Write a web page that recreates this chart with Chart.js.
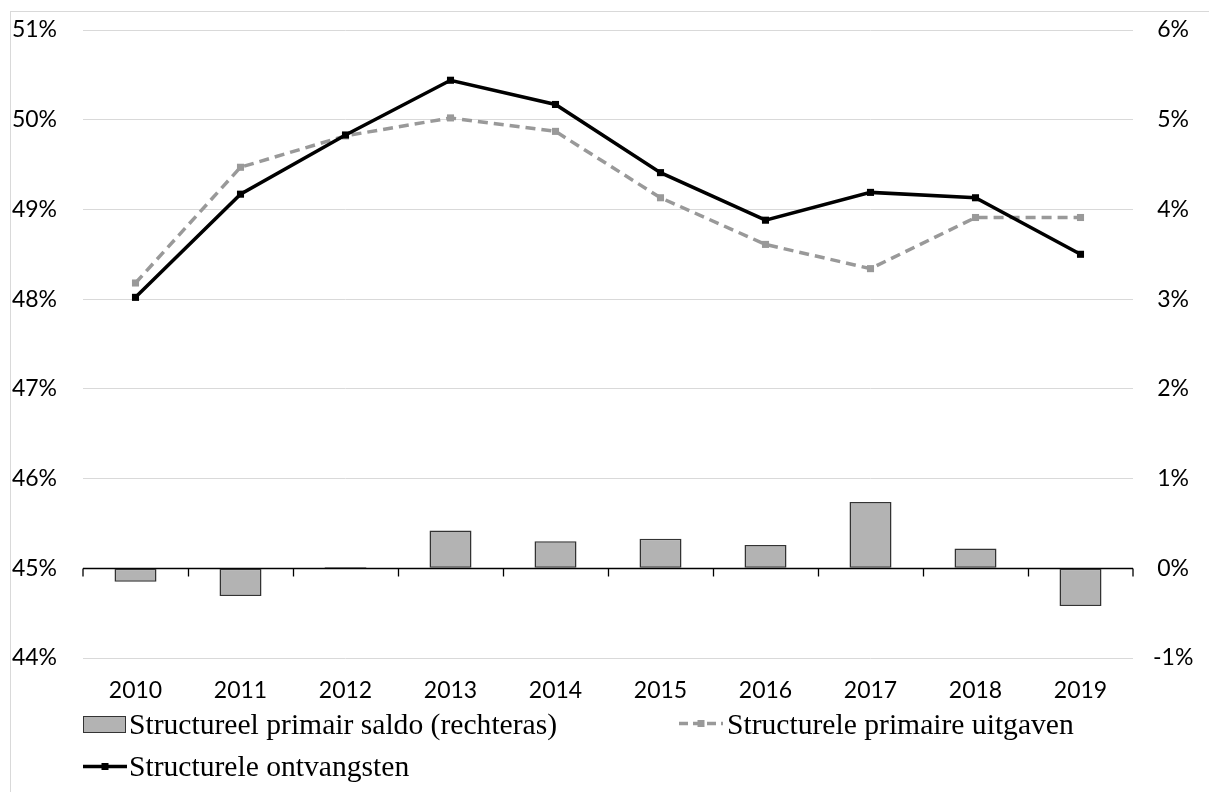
<!DOCTYPE html>
<html>
<head>
<meta charset="utf-8">
<script src="https://cdn.jsdelivr.net/npm/chart.js@4.4.1/dist/chart.umd.min.js"></script>
<style>
  html, body { margin: 0; padding: 0; background: #fff; }
  #wrap { position: relative; width: 1209px; height: 792px; overflow: hidden; }
  #frame { position: absolute; left: 10px; top: 11px; width: 1400px; height: 900px; border: 1px solid #d9d9d9; }
  canvas { position: absolute; left: 0; top: 0; }
  .leg { position: absolute; font-family: "Liberation Serif", serif; font-size: 29.6px; color: #000; white-space: nowrap; line-height: 1; }
</style>
</head>
<body>
<div id="wrap">
  <div id="frame"></div>
  <canvas id="chart" width="1209" height="792"></canvas>
  <div class="leg" style="left:129px; top:710px;">Structureel primair saldo (rechteras)</div>
  <div class="leg" style="left:727px; top:710px;">Structurele primaire uitgaven</div>
  <div class="leg" style="left:129px; top:752px;">Structurele ontvangsten</div>
  <svg style="position:absolute; left:83px; top:716px;" width="44" height="18">
    <rect x="0.5" y="0.5" width="42" height="16" fill="#b3b3b3" stroke="#333" stroke-width="1"/>
  </svg>
  <svg style="position:absolute; left:679px; top:716px;" width="46" height="16">
    <line x1="0" y1="7.5" x2="44" y2="7.5" stroke="#999999" stroke-width="3.5" stroke-dasharray="9,5"/>
    <rect x="18.5" y="4" width="7" height="7" fill="#999999"/>
  </svg>
  <svg style="position:absolute; left:83px; top:759px;" width="46" height="16">
    <line x1="0" y1="7.5" x2="44" y2="7.5" stroke="#000" stroke-width="3.5"/>
    <rect x="18.5" y="4" width="7" height="7" fill="#000"/>
  </svg>
</div>
<script>
const years = ['2010', '2011', '2012', '2013', '2014', '2015', '2016', '2017', '2018', '2019'];
// rechteras, % bbp
const primairSaldo = [-0.15, -0.31, 0.015, 0.42, 0.30, 0.33, 0.26, 0.74, 0.22, -0.42];
// linkeras, % bbp
const primaireUitgaven = [48.18, 49.47, 49.82, 50.02, 49.87, 49.13, 48.61, 48.34, 48.91, 48.91];
const ontvangsten = [48.02, 49.17, 49.83, 50.44, 50.17, 49.41, 48.88, 49.19, 49.13, 48.50];

const leftTicks = [44, 51];
const rightTicks = [-1, 6];

const tickFont = { family: 'Lato', size: 23 };

// as op nulniveau van de rechteras, met streepjes tussen de jaren
const axisAtZero = {
  id: 'axisAtZero',
  beforeDatasetsDraw(chart) {
    const { ctx, chartArea, scales } = chart;
    const y = Math.round(scales.yRight.getPixelForValue(0)) + 0.5;
    const xs = [chartArea.left];
    for (let i = 0; i < years.length - 1; i++) {
      xs.push(Math.round((scales.x.getPixelForValue(i) + scales.x.getPixelForValue(i + 1)) / 2) + 0.5);
    }
    xs.push(chartArea.right);
    ctx.save();
    ctx.strokeStyle = '#000';
    ctx.lineWidth = 1.3;
    ctx.beginPath();
    ctx.moveTo(chartArea.left, y);
    ctx.lineTo(chartArea.right, y);
    xs.forEach((x) => {
      ctx.moveTo(x, y);
      ctx.lineTo(x, y + 8);
    });
    ctx.stroke();
    ctx.restore();
  }
};

new Chart(document.getElementById('chart').getContext('2d'), {
  type: 'bar',
  data: {
    labels: years,
    datasets: [
      {
        type: 'line',
        label: 'Structurele ontvangsten',
        data: ontvangsten,
        yAxisID: 'yLeft',
        borderColor: '#000',
        backgroundColor: '#000',
        borderWidth: 3.5,
        pointStyle: 'rect',
        pointRadius: 5,
        pointBorderWidth: 0,
        tension: 0,
        order: 0
      },
      {
        type: 'line',
        label: 'Structurele primaire uitgaven',
        data: primaireUitgaven,
        yAxisID: 'yLeft',
        borderColor: '#999999',
        backgroundColor: '#999999',
        borderWidth: 3.5,
        borderDash: [10, 6],
        pointStyle: 'rect',
        pointRadius: 5,
        pointBorderWidth: 0,
        tension: 0,
        order: 1
      },
      {
        label: 'Structureel primair saldo (rechteras)',
        data: primairSaldo,
        yAxisID: 'yRight',
        backgroundColor: '#b3b3b3',
        borderColor: '#333333',
        borderWidth: 1.5,
        borderSkipped: false,
        barPercentage: 0.4,
        categoryPercentage: 1,
        order: 2
      }
    ]
  },
  options: {
    responsive: false,
    animation: false,
    layout: { padding: { top: 30, bottom: 74, left: 0, right: 0 } },
    plugins: {
      legend: { display: false },
      tooltip: { enabled: false }
    },
    scales: {
      x: {
        offset: true,
        grid: { display: false, drawTicks: false },
        border: { display: false },
        ticks: { font: tickFont, color: '#000', padding: 19, maxRotation: 0 },
        afterFit: (scale) => { scale.height = 60; }
      },
      yLeft: {
        position: 'left',
        min: leftTicks[0],
        max: leftTicks[1],
        grid: { color: '#d9d9d9', lineWidth: 1, drawTicks: true, tickLength: 26, tickColor: 'rgba(0,0,0,0)' },
        border: { display: false },
        ticks: { stepSize: 1, font: tickFont, color: '#000', padding: 0, callback: (v) => v + '%' },
        afterFit: (scale) => { scale.width = 83; }
      },
      yRight: {
        position: 'right',
        min: rightTicks[0],
        max: rightTicks[1],
        grid: { display: true, drawOnChartArea: false, drawTicks: true, tickLength: 20, tickColor: 'rgba(0,0,0,0)' },
        border: { display: false },
        ticks: { stepSize: 1, font: tickFont, color: '#000', padding: 0, crossAlign: 'center', callback: (v) => v + '%' },
        afterFit: (scale) => { scale.width = 76; }
      }
    }
  },
  plugins: [axisAtZero]
});
</script>
</body>
</html>
